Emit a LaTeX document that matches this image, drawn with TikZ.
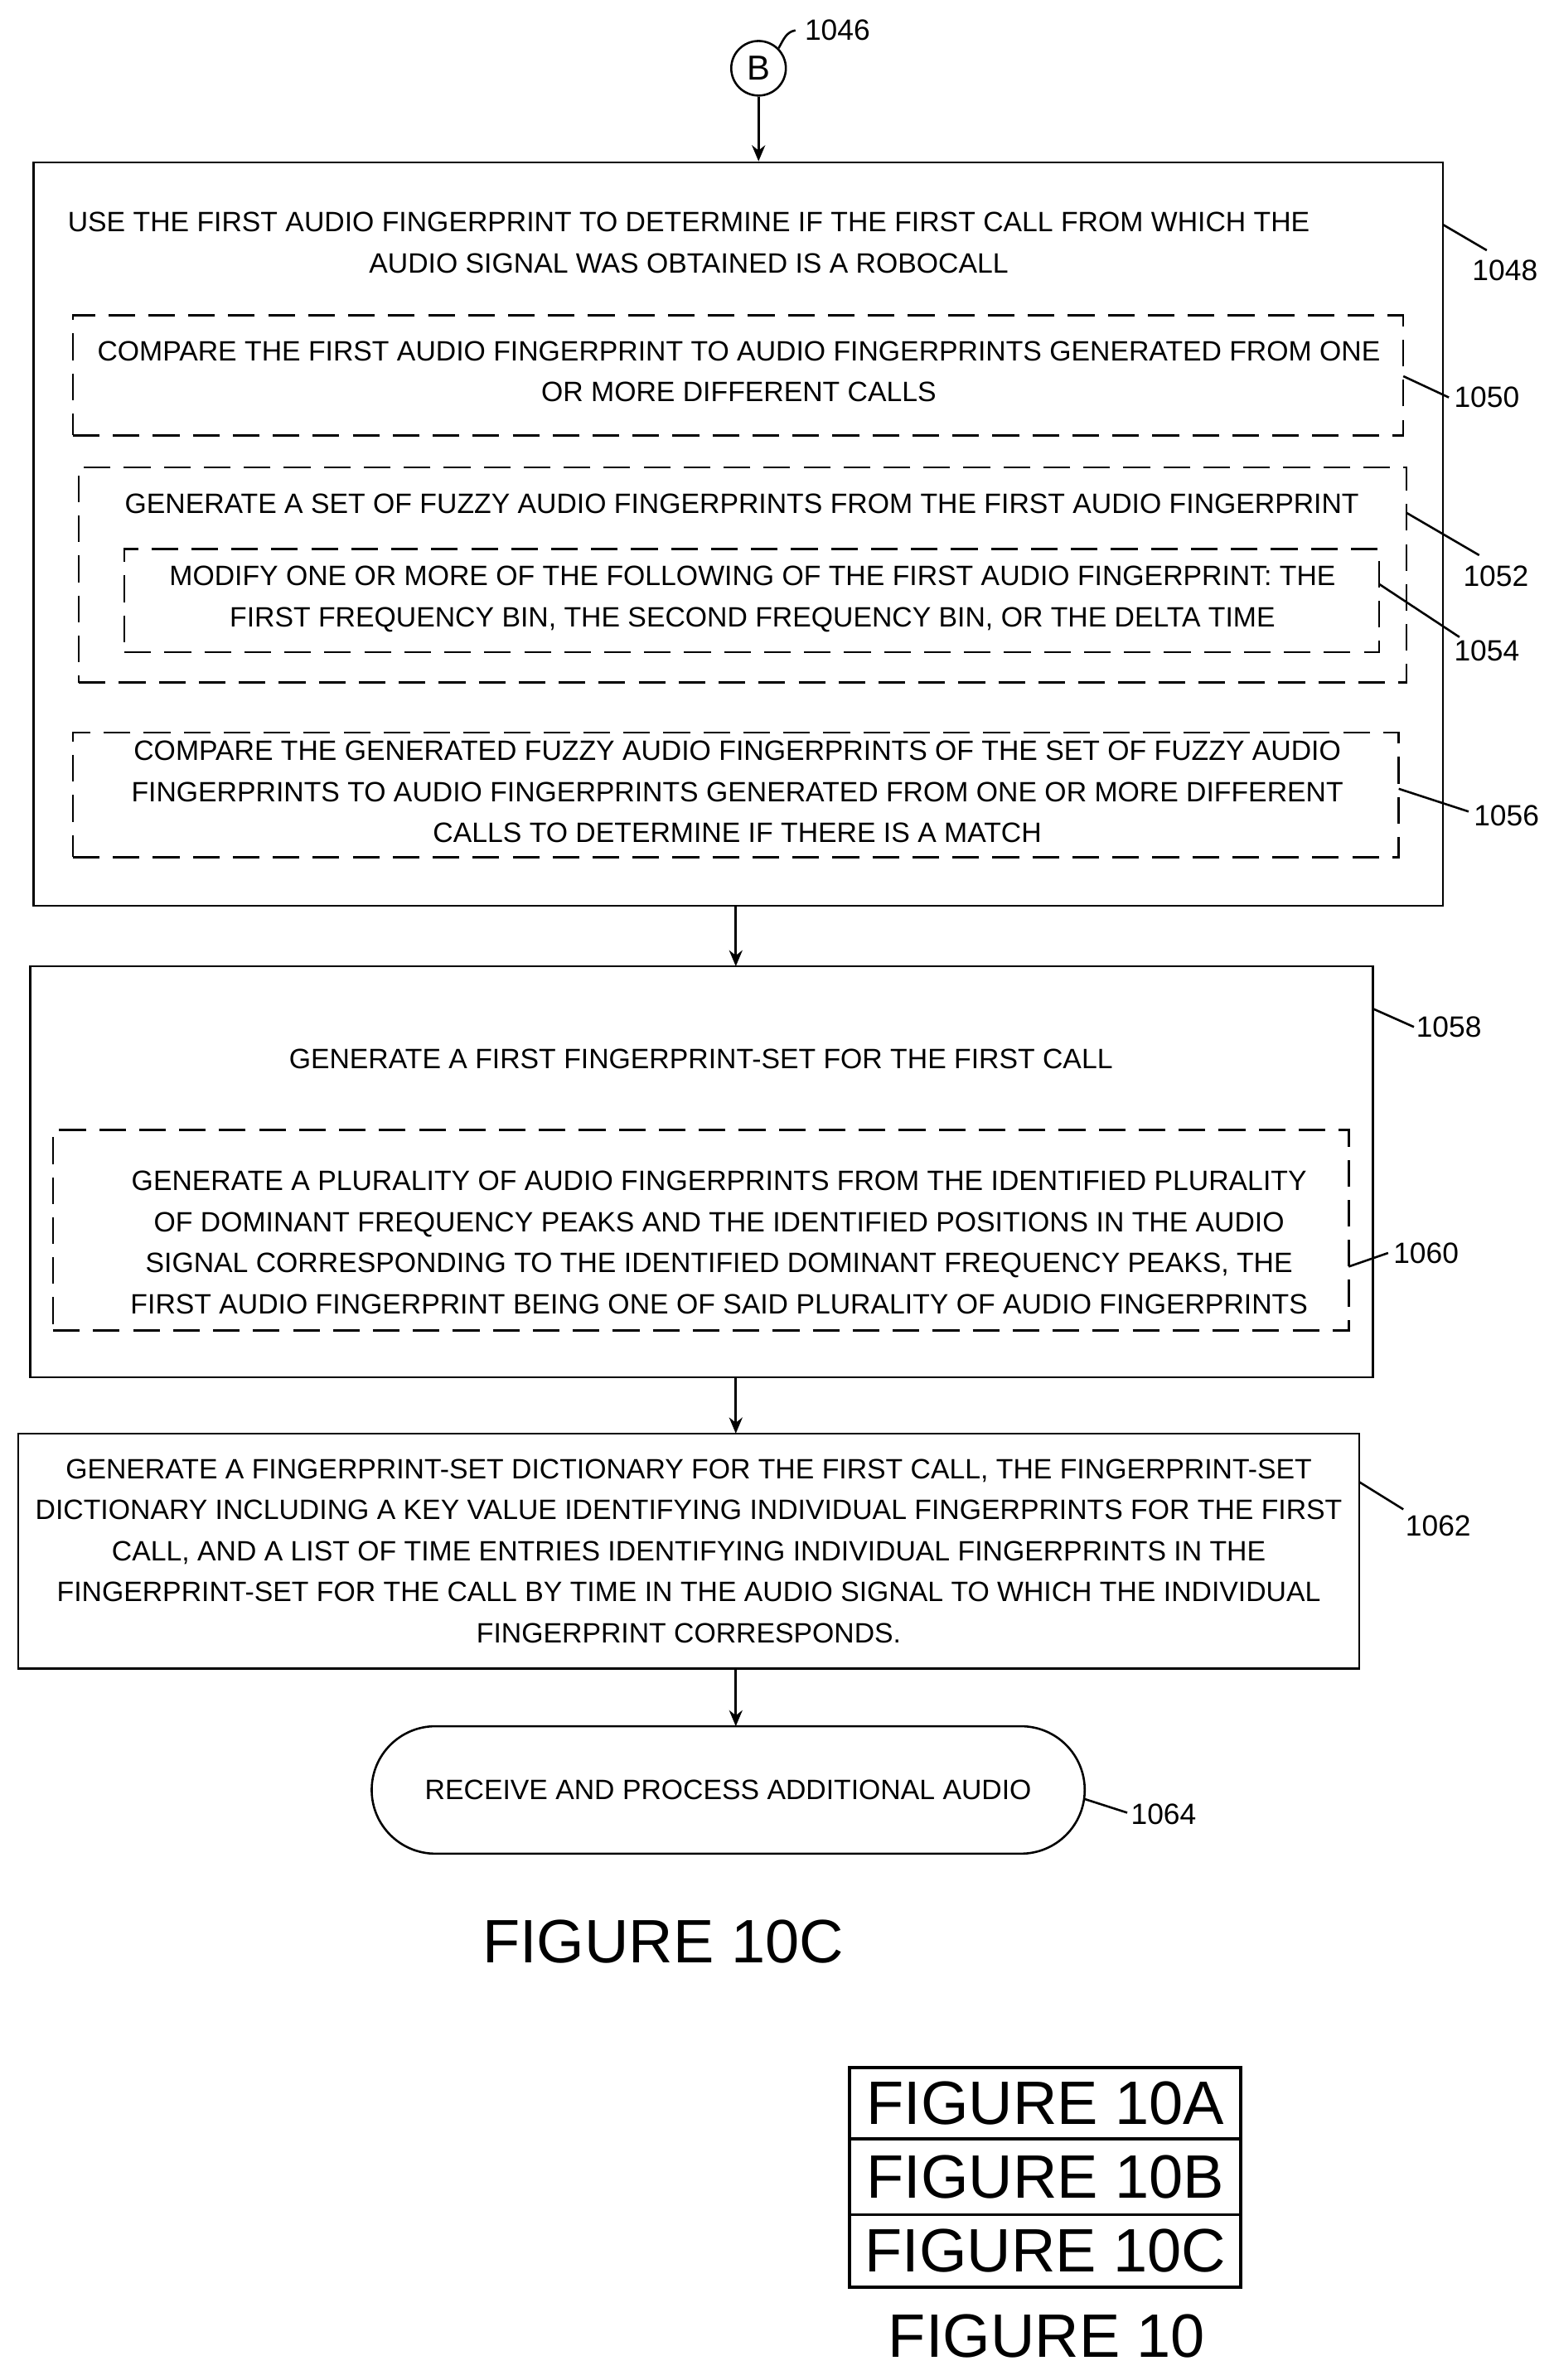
\documentclass[tikz,border=0pt]{standalone}
\usepackage{fontspec}
\setmainfont{Liberation Sans}
\usetikzlibrary{arrows.meta,positioning,calc}

\begin{document}
\begin{tikzpicture}[x=0.02cm,y=-0.02cm,
    box/.style={draw, thick, rectangle, inner sep=0pt},
    dbox/.style={draw, thick, dash pattern=on 10pt off 5pt, rectangle, inner sep=0pt},
    txt/.style={align=center, font=\fontsize{10.5}{15.4}\selectfont},
    ref/.style={font=\fontsize{11}{13}\selectfont},
    big/.style={font=\fontsize{23}{26}\selectfont},
    flow/.style={thick, -{Stealth[length=6pt,width=5pt]}}]
    \useasboundingbox (0,0) rectangle (1024,1569);

    % connector B
    \node (b) [draw, thick, circle, inner sep=0pt, minimum size=0.72cm, font=\fontsize{13}{15}\selectfont] at (500,45) {B};
    \node (l1046) [ref] at (552,20) {1046};
    \draw [thick] (b.north east) to[out=60,in=190] (l1046.west);

    % first block
    \node (robo) [box, minimum width=929*0.02cm, minimum height=490*0.02cm] at (486.5,352) {};
    \node [txt] at (454,160) {USE THE FIRST AUDIO FINGERPRINT TO DETERMINE IF THE FIRST CALL FROM WHICH THE\\AUDIO SIGNAL WAS OBTAINED IS A ROBOCALL};
    \node (compare) [dbox, minimum width=877*0.02cm, minimum height=79*0.02cm] at (486.5,247.5) {};
    \node [txt] at (487,245) {COMPARE THE FIRST AUDIO FINGERPRINT TO AUDIO FINGERPRINTS GENERATED FROM ONE\\OR MORE DIFFERENT CALLS};
    \node (fuzzy) [dbox, minimum width=875*0.02cm, minimum height=142*0.02cm] at (489.5,379) {};
    \node [txt] at (489,332) {GENERATE A SET OF FUZZY AUDIO FINGERPRINTS FROM THE FIRST AUDIO FINGERPRINT};
    \node (modify) [dbox, minimum width=827*0.02cm, minimum height=68*0.02cm] at (495.5,396) {};
    \node [txt] at (496,395) {MODIFY ONE OR MORE OF THE FOLLOWING OF THE FIRST AUDIO FINGERPRINT: THE\\FIRST FREQUENCY BIN, THE SECOND FREQUENCY BIN, OR THE DELTA TIME};
    \node (match) [dbox, minimum width=874*0.02cm, minimum height=82*0.02cm] at (485,524) {};
    \node [txt] at (486,522) {COMPARE THE GENERATED FUZZY AUDIO FINGERPRINTS OF THE SET OF FUZZY AUDIO\\FINGERPRINTS TO AUDIO FINGERPRINTS GENERATED FROM ONE OR MORE DIFFERENT\\CALLS TO DETERMINE IF THERE IS A MATCH};

    % second block
    \node (fset) [box, minimum width=885*0.02cm, minimum height=271*0.02cm] at (462.5,772.5) {};
    \node [txt] at (462,698) {GENERATE A FIRST FINGERPRINT-SET FOR THE FIRST CALL};
    \node (plural) [dbox, minimum width=854*0.02cm, minimum height=132*0.02cm] at (462,811) {};
    \node [txt] at (474,819) {GENERATE A PLURALITY OF AUDIO FINGERPRINTS FROM THE IDENTIFIED PLURALITY\\OF DOMINANT FREQUENCY PEAKS AND THE IDENTIFIED POSITIONS IN THE AUDIO\\SIGNAL CORRESPONDING TO THE IDENTIFIED DOMINANT FREQUENCY PEAKS, THE\\FIRST AUDIO FINGERPRINT BEING ONE OF SAID PLURALITY OF AUDIO FINGERPRINTS};

    % third block
    \node (dict) [box, txt, minimum width=884*0.02cm, minimum height=155*0.02cm] at (454,1022.5) {GENERATE A FINGERPRINT-SET DICTIONARY FOR THE FIRST CALL, THE FINGERPRINT-SET\\DICTIONARY INCLUDING A KEY VALUE IDENTIFYING INDIVIDUAL FINGERPRINTS FOR THE FIRST\\CALL, AND A LIST OF TIME ENTRIES IDENTIFYING INDIVIDUAL FINGERPRINTS IN THE\\FINGERPRINT-SET FOR THE CALL BY TIME IN THE AUDIO SIGNAL TO WHICH THE INDIVIDUAL\\FINGERPRINT CORRESPONDS.};

    \node (recv) [draw, thick, rounded corners=0.84cm, txt, minimum width=470*0.02cm, minimum height=84*0.02cm] at (480,1180) {RECEIVE AND PROCESS ADDITIONAL AUDIO};

    \draw [flow] (b) -- (b |- robo.north);
    \draw [flow] (485,597) -- (485,637);
    \draw [flow] (485,908) -- (485,945);
    \draw [flow] (485,1100) -- (485,1138);

    % reference numerals
    \node (l1048) [ref] at (992,178) {1048};
    \draw [thick] (951,148) -- (980,165);
    \node (l1050) [ref] at (980,262) {1050};
    \draw [thick] (925,248) -- (955,262);
    \node (l1052) [ref] at (986,380) {1052};
    \draw [thick] (927,338) -- (975,366);
    \node (l1054) [ref] at (980,429) {1054};
    \draw [thick] (909,385) -- (962,420);
    \node (l1056) [ref] at (993,538) {1056};
    \draw [thick] (922,520) -- (968,535);
    \node (l1058) [ref] at (955,677) {1058};
    \draw [thick] (905,665) -- (932,677);
    \node (l1060) [ref] at (940,826) {1060};
    \draw [thick] (889,835) -- (915,826);
    \node (l1062) [ref] at (948,1006) {1062};
    \draw [thick] (896,977) -- (925,995);
    \node (l1064) [ref] at (767,1196) {1064};
    \draw [thick] (715,1186) -- (743,1195);

    \node (fig) [big] at (437,1280) {FIGURE 10C};

    % figure map
    \node (fa) [box, very thick, big, minimum width=258*0.02cm, minimum height=47*0.02cm] at (689,1386.5) {FIGURE 10A};
    \node (fb) [box, very thick, big, minimum width=258*0.02cm, minimum height=50*0.02cm] at (689,1435) {FIGURE 10B};
    \node (fc) [box, very thick, big, minimum width=258*0.02cm, minimum height=48*0.02cm] at (689,1484) {FIGURE 10C};
    \node (f10) [big] at (690,1540) {FIGURE 10};
\end{tikzpicture}
\end{document}
